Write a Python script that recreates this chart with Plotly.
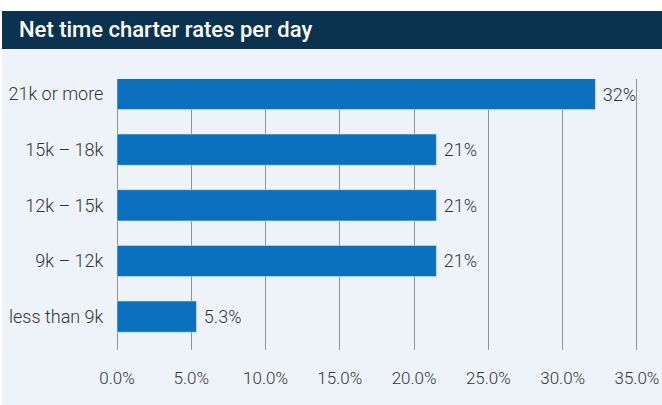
import plotly.graph_objects as go

# Data
categories = ["21k or more", "15k \u2013 18k", "12k \u2013 15k", "9k \u2013 12k", "less than 9k"]
shares = [32.2, 21.5, 21.5, 21.5, 5.35]
share_labels = ["32%", "21%", "21%", "21%", "5.3%"]
tick_values = [0, 5, 10, 15, 20, 25, 30, 35]
tick_labels = ["0.0%", "5.0%", "10.0%", "15.0%", "20.0%", "25.0%", "30.0%", "35.0%"]

# plot area in pixels
L, R, T, B = 117, 638, 79, 350
W, H = R - L, B - T


def px(x):
    return (x - L) / W


def py(y):
    return (B - y) / H


fig = go.Figure()

fig.add_trace(
    go.Bar(
        x=shares,
        y=categories,
        orientation="h",
        marker_color="#0b70be",
        text=["\u00a0" + s for s in share_labels],
        textposition="outside",
        textfont=dict(family="Roboto", size=18, color="#333333", weight=300),
        cliponaxis=False,
    )
)

fig.update_layout(
    width=662,
    height=405,
    paper_bgcolor="white",
    plot_bgcolor="rgba(0,0,0,0)",
    margin=dict(l=L, r=662 - R, t=T, b=405 - B, autoexpand=False),
    showlegend=False,
    bargap=0.44,
    font=dict(family="Roboto", color="#333333"),
    xaxis=dict(
        range=[0, 35.07],
        tickvals=tick_values,
        ticktext=tick_labels,
        showgrid=True,
        gridcolor="#929292",
        gridwidth=1,
        zeroline=True,
        zerolinecolor="#929292",
        zerolinewidth=1,
        ticks="outside",
        ticklen=13,
        tickcolor="rgba(0,0,0,0)",
        ticklabeloverflow="allow",
        tickfont=dict(size=17, color="#333333", weight=300),
        automargin=False,
        fixedrange=True,
    ),
    yaxis=dict(
        range=[4.6, -0.27],
        ticks="outside",
        ticklen=9,
        tickcolor="rgba(0,0,0,0)",
        tickfont=dict(size=18, color="#333333", weight=300),
        showgrid=False,
        automargin=False,
        fixedrange=True,
    ),
)

# light panel and dark title band
fig.add_shape(type="rect", xref="paper", yref="paper",
              x0=px(2), x1=px(662), y0=py(405), y1=py(49),
              fillcolor="#eef3fa", line_width=0, layer="below")
fig.add_shape(type="rect", xref="paper", yref="paper",
              x0=px(2), x1=px(662), y0=py(49), y1=py(11),
              fillcolor="#0b3350", line_width=0, layer="below")

fig.add_annotation(
    text="Net time charter rates per day",
    xref="paper", yref="paper",
    x=px(17), y=py(29),
    xanchor="left", yanchor="middle",
    showarrow=False,
    font=dict(family="Roboto", size=22, color="white", weight=500),
)

# drop the default page margin so the figure sits at the window corner
fig.write_html(
    "out.html",
    config={"displayModeBar": False},
    post_script="document.body.style.margin='0';document.body.style.overflow='hidden';",
)
